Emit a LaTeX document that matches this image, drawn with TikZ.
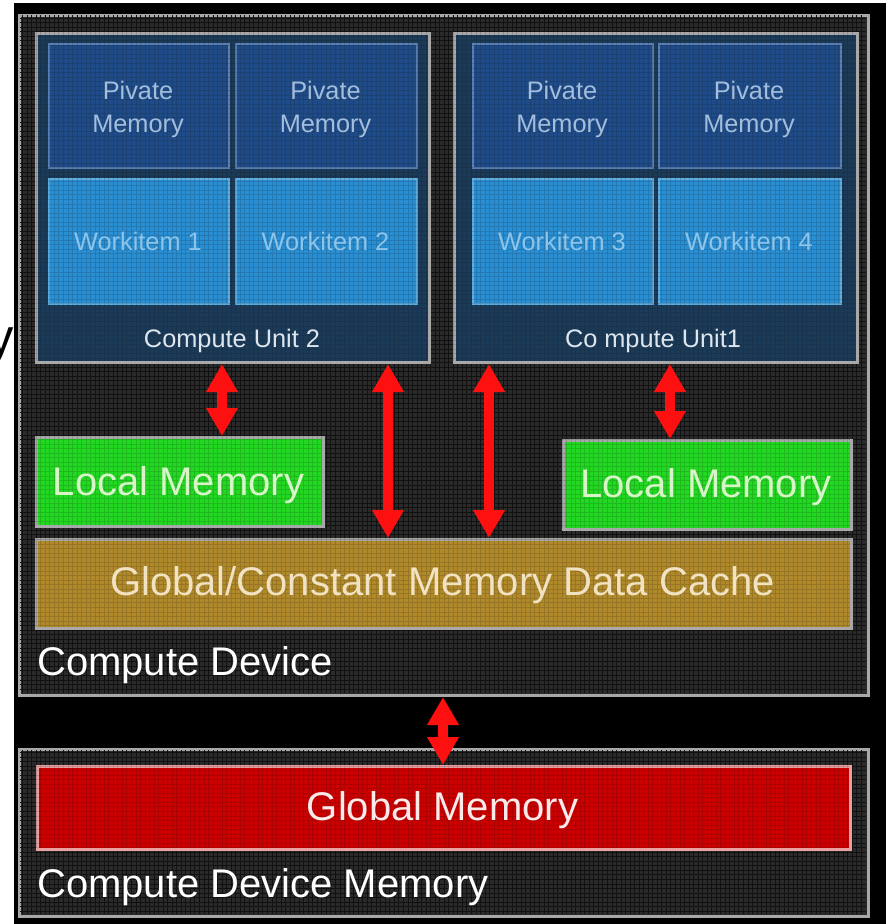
\documentclass[tikz,border=0pt]{standalone}
\usepackage{fontspec}
\setmainfont{Liberation Sans}
\usetikzlibrary{arrows.meta}

% one drawing unit = one pixel of the layout grid
\newlength\pxu \setlength\pxu{0.75pt}

\definecolor{devfill}{HTML}{2A2A2A}
\definecolor{devgrid}{HTML}{111111}
\definecolor{frame}{HTML}{A8A8A8}
\definecolor{cufill}{HTML}{1B3A58}
\definecolor{pmfill}{HTML}{1F4C88}
\definecolor{pmedge}{HTML}{5B80B5}
\definecolor{pmtext}{HTML}{A3BEDD}
\definecolor{wifill}{HTML}{2A8ED2}
\definecolor{wiedge}{HTML}{5FAEE0}
\definecolor{witext}{HTML}{8CC4EA}
\definecolor{cutext}{HTML}{DDE6EE}
\definecolor{lmfill}{HTML}{22D822}
\definecolor{lmtext}{HTML}{D8F5C8}
\definecolor{cachefill}{HTML}{B08A2A}
\definecolor{cachetext}{HTML}{F0E2C2}
\definecolor{gmfill}{HTML}{CC0000}
\definecolor{gmedge}{HTML}{E8A0A0}
\definecolor{gmtext}{HTML}{FAEAEA}
\definecolor{linkred}{HTML}{FF1010}

\tikzset{
  blk/.style={rectangle, inner sep=0pt, anchor=north west},
  device/.style={blk, fill=devfill, draw=frame, line width=2.25pt},
  unitbox/.style={blk, fill=cufill, draw=frame, line width=2.25pt},
  privbox/.style={blk, fill=pmfill, draw=pmedge, line width=1.5pt},
  workbox/.style={blk, fill=wifill, draw=wiedge, line width=1.5pt},
  localbox/.style={blk, fill=lmfill, draw=frame, line width=2.25pt},
  cachebox/.style={blk, fill=cachefill, draw=frame, line width=2.25pt},
  globbox/.style={blk, fill=gmfill, draw=gmedge, line width=2.25pt},
  smalltxt/.style={inner sep=0pt, anchor=base, font=\fontsize{19}{22}\selectfont},
  bigtxt/.style={inner sep=0pt, anchor=base, font=\fontsize{30}{34}\selectfont},
  link/.style={draw=linkred, line width=7pt,
    {Triangle[length=21pt,width=22.5pt]}-{Triangle[length=21pt,width=22.5pt]}},
}

% name, x1, y1, x2, y2, style
\newcommand\blkbox[6]{%
  \node[#6, minimum width={(#4-#2)*\pxu}, minimum height={(#5-#3)*\pxu}]
    (#1) at (#2,#3) {};}

% texture of the dark panels
\newcommand\panelgrid[4]{%
  \begin{scope}
    \clip (#1,#2) rectangle (#3,#4);
    \draw[devgrid, line width=0.7pt, step=3.4pt] (#1,#2) grid (#3,#4);
  \end{scope}}

\begin{document}
\begin{tikzpicture}[x=\pxu, y=-\pxu]
  \useasboundingbox (0,0) rectangle (886,924);
  \clip (0,0) rectangle (886,924);
  \fill[white] (0,0) rectangle (886,924);

  % stray letter at the left border
  \node[inner sep=0pt, anchor=base west, font=\fontsize{38}{40}\selectfont]
    (stray) at (-12,354) {y};

  \fill[black] (14,3) rectangle (886,924);

  % panels
  \blkbox{dev}{18}{14}{867}{694}{device}
  \blkbox{devmem}{18}{748}{867}{915}{device}
  \panelgrid{19.5}{15.5}{865.5}{692.5}
  \panelgrid{19.5}{749.5}{865.5}{913.5}

  % compute units
  \blkbox{cu2}{35}{32}{428}{361}{unitbox}
  \blkbox{cu1}{453}{32}{856}{361}{unitbox}

  \blkbox{pm1}{48}{43}{228}{167}{privbox}
  \blkbox{pm2}{235}{43}{416}{167}{privbox}
  \blkbox{pm3}{472}{43}{652}{167}{privbox}
  \blkbox{pm4}{658}{43}{840}{167}{privbox}

  \blkbox{wi1}{48}{178}{228}{303}{workbox}
  \blkbox{wi2}{235}{178}{416}{303}{workbox}
  \blkbox{wi3}{472}{178}{652}{303}{workbox}
  \blkbox{wi4}{658}{178}{840}{303}{workbox}

  % memories of the device
  \blkbox{lmA}{35}{436}{322}{525}{localbox}
  \blkbox{lmB}{562}{439}{850}{528}{localbox}
  \blkbox{cache}{35}{538}{850}{627}{cachebox}
  \blkbox{gmem}{36}{765}{849}{848}{globbox}

  % faint texture over the coloured boxes
  \begin{scope}[opacity=0.16]
    \panelgrid{35}{32}{428}{361}
    \panelgrid{453}{32}{856}{361}
    \panelgrid{35}{436}{322}{525}
    \panelgrid{562}{439}{850}{528}
    \panelgrid{35}{538}{850}{627}
    \panelgrid{36}{765}{849}{848}
  \end{scope}

  % labels
  \foreach \n/\cx in {1/138, 2/325.5, 3/562, 4/749} {
    \node[smalltxt, text=pmtext] (pmt\n a) at (\cx,99) {Pivate};
    \node[smalltxt, text=pmtext] (pmt\n b) at (\cx,132) {Memory};
  }
  \node[smalltxt, text=witext] (wit1) at (138,250) {Workitem 1};
  \node[smalltxt, text=witext] (wit2) at (325.5,250) {Workitem 2};
  \node[smalltxt, text=witext] (wit3) at (562,250) {Workitem 3};
  \node[smalltxt, text=witext] (wit4) at (749,250) {Workitem 4};

  \node[smalltxt, text=cutext] (cu2t) at (232,347) {Compute Unit 2};
  \node[smalltxt, text=cutext] (cu1t) at (653,347) {Co mpute Unit1};

  \node[bigtxt, text=lmtext] (lmAt) at (178.5,495) {Local Memory};
  \node[bigtxt, text=lmtext] (lmBt) at (706,497) {Local Memory};
  \node[bigtxt, text=cachetext] (cachet) at (442.5,595) {Global/Constant Memory Data Cache};
  \node[bigtxt, text=gmtext] (gmemt) at (442.5,820) {Global Memory};

  \node[bigtxt, anchor=base west, text=white] (devt) at (37,675) {Compute Device};
  \node[bigtxt, anchor=base west, text=white] (devmemt) at (37,897) {Compute Device Memory};

  % data paths
  \coordinate (xa) at (222,0);
  \coordinate (xb) at (388,0);
  \coordinate (xc) at (489,0);
  \coordinate (xd) at (670,0);
  \coordinate (xe) at (443,0);
  \draw[link] (cu2.south -| xa) -- (lmA.north -| xa);
  \draw[link] (cu2.south -| xb) -- (cache.north -| xb);
  \draw[link] (cu1.south -| xc) -- (cache.north -| xc);
  \draw[link] (cu1.south -| xd) -- (lmB.north -| xd);
  \draw[link] (dev.south -| xe) -- (gmem.north -| xe);
\end{tikzpicture}
\end{document}
